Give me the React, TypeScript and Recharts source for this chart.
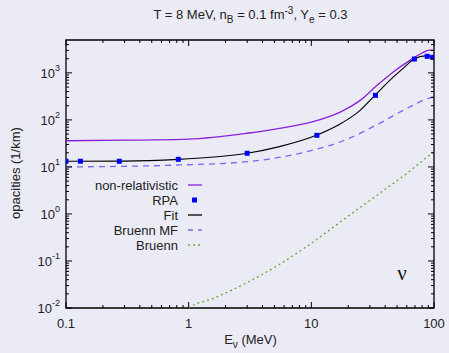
import { ComposedChart, Line, Scatter, XAxis, YAxis, ReferenceArea } from 'recharts'

// plot box, matches the gnuplot frame
const W = 449
const H = 353
const LEFT = 66
const RIGHT = 434
const TOP = 40
const BOTTOM = 308

const FONT = '"Liberation Sans", Arial, sans-serif'
const BG = '#ebebf5'

// axes
const xMajor = [0.1, 1, 10, 100]
const xTickLabels = ['0.1', '1', '10', '100']
const yMajor = [0.01, 0.1, 1, 10, 100, 1000]
const yExponents = ['-2', '-1', '0', '1', '2', '3']
const minorSteps = [2, 3, 4, 5, 6, 7, 8, 9]
const xMinor = xMajor.slice(0, 3).flatMap((d) => minorSteps.map((m) => +(d * m).toPrecision(3)))
const yMinor = yMajor
  .flatMap((d) => minorSteps.map((m) => +(d * m).toPrecision(3)))
  .filter((v) => v < 5000)

// series (E in MeV, opacity in 1/km)
const nonRelE = [0.1, 0.3, 1, 3, 5.5, 10, 13, 18, 25, 34, 46, 64, 80, 92, 100]
const nonRelK = [36, 37, 39, 52, 66, 90, 110, 155, 260, 530, 1020, 1870, 2650, 3050, 3000]

const rpaE = [0.1, 0.131, 0.272, 0.823, 3.0, 11.1, 33.3, 69.2, 88, 97.5]
const rpaK = [13.2, 13.2, 13.2, 14.5, 19.5, 47, 333, 1970, 2250, 2140]

const fitE = [0.1, 0.3, 0.83, 1.5, 3, 5.5, 11, 18, 25, 33, 46, 56, 69, 85, 100]
const fitK = [13.2, 13.3, 14.5, 16, 19.5, 27, 47, 88, 160, 333, 789, 1250, 1970, 2300, 2180]

const mfE = [0.1, 0.3, 0.85, 3, 10.4, 18, 34, 64, 90, 100]
const mfK = [10, 10.3, 11, 12.9, 22.9, 35.6, 78, 191, 288, 310]

const bruennE = [1, 1.06, 1.59, 2.97, 5.56, 10.4, 20, 35, 60, 98.5, 100]
const bruennK = [0.01, 0.011, 0.016, 0.0345, 0.086, 0.257, 0.9, 2.6, 7.3, 20.4, 21]

const zip = (xs: number[], ys: number[]) => xs.map((x, i) => ({ x, y: ys[i] }))

const nonRel = zip(nonRelE, nonRelK)
const rpa = zip(rpaE, rpaK)
const fit = zip(fitE, fitK)
const mf = zip(mfE, mfK)
const bruenn = zip(bruennE, bruennK)

const C_NONREL = '#8b1fd8'
const C_RPA = '#0000ff'
const C_FIT = '#000000'
const C_MF = '#7766f0'
const C_BRUENN = '#5fae3a'

const legendItems = [
  { label: 'non-relativistic', kind: 'line', color: C_NONREL, dash: undefined },
  { label: 'RPA', kind: 'point', color: C_RPA, dash: undefined },
  { label: 'Fit', kind: 'line', color: C_FIT, dash: undefined },
  { label: 'Bruenn MF', kind: 'line', color: C_MF, dash: '5 5' },
  { label: 'Bruenn', kind: 'line', color: C_BRUENN, dash: '2 3' },
]

function XTick(props: any) {
  const { x, payload } = props
  const i = xMajor.indexOf(payload.value)
  const len = i >= 0 ? 6 : 3
  return (
    <g>
      <line x1={x} x2={x} y1={BOTTOM} y2={BOTTOM - len} stroke="#000" />
      <line x1={x} x2={x} y1={TOP} y2={TOP + len} stroke="#000" />
      {i >= 0 && (
        <text x={x} y={328} textAnchor="middle" fontSize={13} fill="#222" fontFamily={FONT}>
          {xTickLabels[i]}
        </text>
      )}
    </g>
  )
}

function YTick(props: any) {
  const { y, payload } = props
  const i = yMajor.indexOf(payload.value)
  const len = i >= 0 ? 6 : 3
  return (
    <g>
      <line x1={LEFT} x2={LEFT + len} y1={y} y2={y} stroke="#000" />
      <line x1={RIGHT} x2={RIGHT - len} y1={y} y2={y} stroke="#000" />
      {i >= 0 && (
        <text x={60} y={y + 5} textAnchor="end" fontSize={13} fill="#222" fontFamily={FONT}>
          10
          <tspan fontSize={9} dy={-7}>
            {yExponents[i]}
          </tspan>
        </text>
      )}
    </g>
  )
}

const square = (p: any) => (
  <rect x={p.cx - 2.5} y={p.cy - 2.5} width={5} height={5} fill={C_RPA} />
)

export default function App() {
  return (
    <div
      style={{
        position: 'absolute',
        left: 0,
        top: 0,
        width: W,
        height: H,
        background: BG,
        fontFamily: FONT,
        color: '#222',
      }}
    >
      <ComposedChart width={W} height={H} margin={{ top: TOP, right: W - RIGHT, bottom: 15, left: 10 }}>
        <XAxis
          dataKey="x"
          type="number"
          scale="log"
          domain={[0.1, 100]}
          allowDataOverflow
          ticks={[...xMajor, ...xMinor]}
          interval={0}
          tick={<XTick />}
          tickLine={false}
          axisLine={false}
          height={H - 15 - BOTTOM}
        />
        <YAxis
          dataKey="y"
          type="number"
          scale="log"
          domain={[0.01, 5000]}
          allowDataOverflow
          ticks={[...yMajor, ...yMinor]}
          interval={0}
          tick={<YTick />}
          tickLine={false}
          axisLine={false}
          width={LEFT - 10}
        />
        <Line data={bruenn} dataKey="y" stroke={C_BRUENN} strokeWidth={1.3} strokeDasharray="2 3" dot={false} type="monotone" isAnimationActive={false} />
        <Line data={mf} dataKey="y" stroke={C_MF} strokeWidth={1.3} strokeDasharray="6 5" dot={false} type="monotone" isAnimationActive={false} />
        <Line data={nonRel} dataKey="y" stroke={C_NONREL} strokeWidth={1.3} dot={false} type="monotone" isAnimationActive={false} />
        <Line data={fit} dataKey="y" stroke={C_FIT} strokeWidth={1.1} dot={false} type="monotone" isAnimationActive={false} />
        <Scatter data={rpa} dataKey="y" shape={square} isAnimationActive={false} />
        <ReferenceArea x1={0.1} x2={100} y1={0.01} y2={5000} fill="none" stroke="#000" strokeWidth={1.3} ifOverflow="visible" />
      </ComposedChart>

      {/* title */}
      <div style={{ position: 'absolute', top: 5, left: 0, width: W, paddingLeft: 52, boxSizing: 'border-box', textAlign: 'center', fontSize: 13 }}>
        T = 8 MeV, n<sub style={{ fontSize: 10 }}>B</sub> = 0.1 fm<sup style={{ fontSize: 10 }}>-3</sup>, Y
        <sub style={{ fontSize: 10 }}>e</sub> = 0.3
      </div>

      {/* axis titles */}
      <div style={{ position: 'absolute', top: 332, left: 0, width: W, paddingLeft: 52, boxSizing: 'border-box', textAlign: 'center', fontSize: 13 }}>
        E<sub style={{ fontSize: 10 }}>ν</sub> (MeV)
      </div>
      <div
        style={{
          position: 'absolute',
          left: 15,
          top: 173,
          transform: 'translate(-50%, -50%) rotate(-90deg)',
          whiteSpace: 'nowrap',
          fontSize: 13,
        }}
      >
        opacities (1/km)
      </div>

      {/* legend */}
      <svg style={{ position: 'absolute', left: 0, top: 0 }} width={W} height={H}>
        {legendItems.map((it, i) => {
          const cy = 185 + i * 15
          return (
            <g key={it.label}>
              <text x={178} y={cy + 5} textAnchor="end" fontSize={13} fill="#222" fontFamily={FONT}>
                {it.label}
              </text>
              {it.kind === 'point' ? (
                <rect x={192} y={cy - 2.5} width={5} height={5} fill={it.color} />
              ) : (
                <line x1={188} x2={202} y1={cy} y2={cy} stroke={it.color} strokeWidth={1.3} strokeDasharray={it.dash} />
              )}
            </g>
          )
        })}
        <text x={402} y={280} textAnchor="middle" fontSize={21} fill="#111" fontFamily='"Liberation Serif", "DejaVu Serif", serif'>
          ν
        </text>
      </svg>
    </div>
  )
}
